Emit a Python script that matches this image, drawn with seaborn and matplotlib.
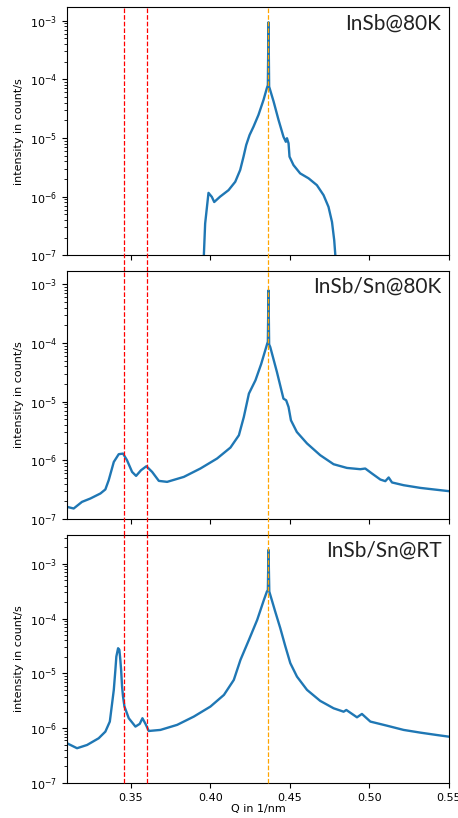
import numpy as np
import pandas as pd
import matplotlib
matplotlib.use("Agg")
import matplotlib.pyplot as plt
import seaborn as sns
from matplotlib.ticker import MultipleLocator

# ---------------- data ----------------
q_insb_80k = [0.3952, 0.3968, 0.3989, 0.4010, 0.4025, 0.4062, 0.4115, 0.4157, 0.4188,
              0.4209, 0.4226, 0.4247, 0.4272, 0.4303, 0.4335, 0.4356, 0.4362, 0.4366,
              0.4370, 0.4398, 0.4429, 0.4460, 0.4475, 0.4482, 0.4492, 0.4498, 0.4523,
              0.4565, 0.4618, 0.4670, 0.4712, 0.4743, 0.4765, 0.4779, 0.4786, 0.4789]
i_insb_80k = [3e-8, 3.48e-7, 1.16e-6, 9.9e-7, 8.1e-7, 1.0e-6, 1.29e-6, 1.79e-6, 2.84e-6,
              4.79e-6, 7.59e-6, 1.12e-5, 1.56e-5, 2.47e-5, 4.47e-5, 7.1e-5, 7.9e-5, 9.35e-4,
              7.5e-5, 4.18e-5, 2.03e-5, 1.05e-5, 8.6e-6, 9.9e-6, 8.1e-6, 4.8e-6, 3.45e-6,
              2.49e-6, 2.05e-6, 1.57e-6, 1.06e-6, 6.7e-7, 3.7e-7, 1.8e-7, 1.0e-7, 3e-8]

q_insbsn_80k = [0.3100, 0.3142, 0.3194, 0.3247, 0.3310, 0.3341, 0.3362, 0.3394, 0.3425,
                0.3452, 0.3477, 0.3509, 0.3534, 0.3565, 0.3599, 0.3635, 0.3677, 0.3729,
                0.3834, 0.3938, 0.4043, 0.4127, 0.4180, 0.4211, 0.4243, 0.4284, 0.4320,
                0.4358, 0.4362, 0.4366, 0.4370, 0.4377, 0.4419, 0.4460, 0.4477, 0.4492,
                0.4507, 0.4544, 0.4608, 0.4691, 0.4775, 0.4859, 0.4943, 0.4974, 0.5016,
                0.5069, 0.5100, 0.5121, 0.5142, 0.5215, 0.5320, 0.5404, 0.5500]
i_insbsn_80k = [1.62e-7, 1.52e-7, 1.97e-7, 2.25e-7, 2.74e-7, 3.21e-7, 4.61e-7, 9.44e-7, 1.28e-6,
                1.31e-6, 1.01e-6, 6.38e-7, 5.46e-7, 6.82e-7, 7.98e-7, 6.38e-7, 4.49e-7, 4.32e-7,
                5.25e-7, 7.29e-7, 1.08e-6, 1.66e-6, 2.69e-6, 5.51e-6, 1.38e-5, 2.32e-5, 4.4e-5,
                9.77e-5, 1.05e-4, 7.9e-4, 9.5e-5, 8.57e-5, 3.21e-5, 1.13e-5, 1.06e-5, 8.15e-6,
                4.84e-6, 3.06e-6, 1.95e-6, 1.23e-6, 8.63e-7, 7.46e-7, 7.10e-7, 7.29e-7, 6.0e-7,
                4.73e-7, 4.44e-7, 5.13e-7, 4.22e-7, 3.79e-7, 3.41e-7, 3.21e-7, 3.0e-7]

q_insbsn_rt = [0.3100, 0.3163, 0.3226, 0.3299, 0.3341, 0.3369, 0.3373, 0.3394, 0.3404,
               0.3410, 0.3421, 0.3429, 0.3435, 0.3440, 0.3446, 0.3452, 0.3461, 0.3473,
               0.3488, 0.3530, 0.3557, 0.3574, 0.3593, 0.3614, 0.3687, 0.3792, 0.3897,
               0.4001, 0.4086, 0.4148, 0.4190, 0.4243, 0.4295, 0.4337, 0.4356, 0.4362,
               0.4366, 0.4371, 0.4408, 0.4440, 0.4471, 0.4503, 0.4545, 0.4608, 0.4691,
               0.4775, 0.4838, 0.4855, 0.4922, 0.4953, 0.5006, 0.5111, 0.5215, 0.5320,
               0.5425, 0.5500]
i_insbsn_rt = [5.31e-7, 4.31e-7, 4.94e-7, 6.55e-7, 8.65e-7, 1.32e-6, 1.63e-6, 5.0e-6, 1.16e-5,
               2.03e-5, 2.88e-5, 2.69e-5, 1.77e-5, 1.16e-5, 5.74e-6, 3.77e-6, 2.48e-6, 2.0e-6,
               1.52e-6, 1.07e-6, 1.20e-6, 1.52e-6, 1.20e-6, 8.9e-7, 9.3e-7, 1.15e-6, 1.63e-6,
               2.48e-6, 4.05e-6, 7.60e-6, 1.77e-5, 4.09e-5, 9.48e-5, 2.19e-4, 3.12e-4, 3.3e-4,
               1.80e-3, 3.12e-4, 1.35e-4, 6.70e-5, 3.18e-5, 1.54e-5, 8.73e-6, 5.0e-6, 3.15e-6,
               2.31e-6, 2.0e-6, 2.15e-6, 1.58e-6, 1.82e-6, 1.32e-6, 1.11e-6, 9.3e-7, 8.3e-7,
               7.5e-7, 7.0e-7]

panel_labels = ["InSb@80K", "InSb/Sn@80K", "InSb/Sn@RT"]
red_lines_q = [0.3458, 0.3603]
orange_line_q = 0.4366
x_ticks = [0.35, 0.40, 0.45, 0.50, 0.55]
y_tops = [1.7e-3, 1.7e-3, 3.4e-3]

series = [(q_insb_80k, i_insb_80k), (q_insbsn_80k, i_insbsn_80k), (q_insbsn_rt, i_insbsn_rt)]

# ---------------- plot ----------------
plt.rcParams.update({
    "font.size": 8,
    "xtick.labelsize": 8,
    "ytick.labelsize": 8,
    "axes.labelsize": 8,
})

fig, axes = plt.subplots(3, 1, sharex=True, figsize=(4.58, 8.18), dpi=100)
fig.subplots_adjust(left=0.1463, right=0.9803, top=0.9914, bottom=0.0428, hspace=0.0625)

for k, (ax, (q, inten), label, ytop) in enumerate(zip(axes, series, panel_labels, y_tops)):
    df = pd.DataFrame({"q": q, "I": inten})
    sns.lineplot(data=df, x="q", y="I", ax=ax, color="#1f77b4", linewidth=1.7, sort=False)
    ax.set_yscale("log")
    ax.set_ylim(1e-7, ytop)
    ax.set_xlim(0.31, 0.55)
    ax.set_ylabel("intensity in count/s")
    ax.set_xlabel("")
    ymin = -0.065 if k < 2 else 0.0
    for xr in red_lines_q:
        ax.axvline(xr, ymin=ymin, ymax=1, color="red", linestyle="--", linewidth=0.9,
                   clip_on=False, zorder=3)
    ax.axvline(orange_line_q, ymin=ymin, ymax=1, color="orange", linestyle="--",
               linewidth=0.9, clip_on=False, zorder=3)
    ax.text(0.98, 0.975, label, transform=ax.transAxes, ha="right", va="top",
            fontsize=15, family=["Lato", "DejaVu Sans"], color="#222222")

axes[-1].xaxis.set_major_locator(MultipleLocator(0.05))
axes[-1].set_xticks(x_ticks)
axes[-1].set_xticklabels([f"{t:.2f}" for t in x_ticks])
axes[-1].set_xlabel("Q in 1/nm", labelpad=1)

fig.savefig("out.png", dpi=100)
